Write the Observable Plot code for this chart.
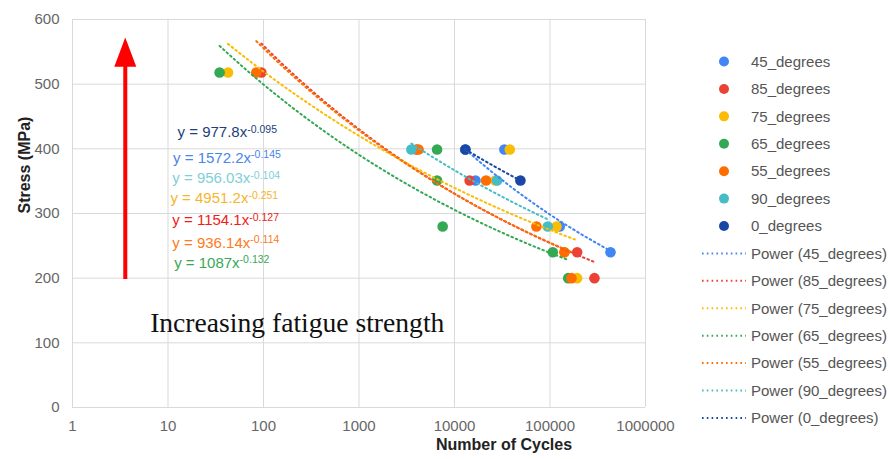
<!DOCTYPE html>
<html>
<head>
<meta charset="utf-8">
<script src="https://cdn.jsdelivr.net/npm/d3@7"></script>
<script src="https://cdn.jsdelivr.net/npm/@observablehq/plot@0.6"></script>
<style>
  html, body { margin: 0; padding: 0; background: #fff; }
  #chart { position: relative; width: 890px; height: 459px; font-family: Arial, "Liberation Sans", sans-serif; }
  #chart > svg { position: absolute; left: 0; top: 0; }
</style>
</head>
<body>
<div id="chart"></div>
<script>
// Orientation series, in legend / drawing order
const seriesNames = ["45_degrees", "85_degrees", "75_degrees", "65_degrees", "55_degrees", "90_degrees", "0_degrees"];
const seriesColors = ["#4285f4", "#ea4335", "#fbbc04", "#34a853", "#ff6d01", "#46bdc6", "#1a47a6"];

// Cycles to failure and stress (MPa) for each orientation
const cycles45 = [13000, 16600, 33300, 126500, 430000];
const stress45 = [399, 351, 399, 280, 240];
const cycles85 = [95, 4000, 14400, 192500, 292000];
const stress85 = [518, 399, 351, 240, 200];
const cycles75 = [42.5, 26800, 37900, 117000, 141000, 192500];
const stress75 = [518, 351, 399, 280, 240, 200];
const cycles65 = [34.7, 6570, 6570, 7520, 107000, 155000];
const stress65 = [518, 399, 351, 280, 240, 200];
const cycles55 = [84, 4200, 21400, 72100, 141700, 167800];
const stress55 = [518, 399, 351, 280, 240, 200];
const cycles90 = [3535, 27900, 94800];
const stress90 = [399, 351, 280];
const cycles0 = [13000, 49000];
const stress0 = [399, 351];

// Axis ticks
const xTicks = [1, 10, 100, 1000, 10000, 100000, 1000000];
const yTicks = [0, 100, 200, 300, 400, 500, 600];

// Trend-line equation labels
const eqCoef = ["977.8", "1572.2", "956.03", "4951.2", "1154.1", "936.14", "1087"];
const eqExp = ["-0.095", "-0.145", "-0.104", "-0.251", "-0.127", "-0.114", "-0.132"];
const eqColors = ["#213f7c", "#4a86e8", "#80cfd8", "#f6b52c", "#f21b1b", "#ff7a21", "#38a856"];

const annotationText = "Increasing fatigue strength";

// ---- build tables ----
const cyclesBySeries = [cycles45, cycles85, cycles75, cycles65, cycles55, cycles90, cycles0];
const stressBySeries = [stress45, stress85, stress75, stress65, stress55, stress90, stress0];

const points = seriesNames.flatMap((s, i) =>
  cyclesBySeries[i].map((c, j) => ({series: s, cycles: c, stress: stressBySeries[i][j]}))
);

// Power-law trend line (least squares on ln x / ln y) over each series' cycle range
const trend = seriesNames.flatMap((s, i) => {
  const xs = cyclesBySeries[i].map(Math.log);
  const ys = stressBySeries[i].map(Math.log);
  const mx = d3.mean(xs), my = d3.mean(ys);
  const b = d3.sum(xs, (x, k) => (x - mx) * (ys[k] - my)) / d3.sum(xs, x => (x - mx) ** 2);
  const a = Math.exp(my - b * mx);
  const [lo, hi] = d3.extent(cyclesBySeries[i]);
  return d3.range(61).map(k => {
    const c = Math.exp(Math.log(lo) + (Math.log(hi) - Math.log(lo)) * k / 60);
    return {series: s, cycles: c, stress: a * Math.pow(c, b)};
  });
});

// Placement of the annotations, in data units
const eqLayout = [
  {x: 12.6, y: 425}, {x: 11.3, y: 386}, {x: 11.1, y: 354}, {x: 10.6, y: 323},
  {x: 11.1, y: 289}, {x: 11.1, y: 254}, {x: 11.6, y: 223}
];
const equations = eqCoef.map((c, i) => ({...eqLayout[i], label: `y = ${c}x^${eqExp[i]}`, color: eqColors[i]}));
const arrow = {x: 3.57, y1: 198, y2: 545, tip: 572};
const annotationPos = {x: 6.5, y: 131};

// Filled arrow head: tip at the anchor, base below it
const arrowHead = {
  draw(ctx, size) {
    const r = Math.sqrt(size / Math.PI);
    ctx.moveTo(0, 0);
    ctx.lineTo(r, r * 2.64);
    ctx.lineTo(-r, r * 2.64);
    ctx.closePath();
  }
};

const font = "Arial, 'Liberation Sans', sans-serif";
const dotted = "1.6,3.2";

const plot = Plot.plot({
  width: 890,
  height: 459,
  marginLeft: 72,
  marginRight: 245,
  marginTop: 19,
  marginBottom: 52,
  style: {fontFamily: font, background: "transparent", overflow: "visible"},
  x: {type: "log", domain: [1, 1e6]},
  y: {domain: [0, 600]},
  color: {domain: seriesNames, range: seriesColors},
  marks: [
    Plot.gridX(xTicks, {stroke: "#d9d9d9", strokeOpacity: 1}),
    Plot.gridY(yTicks, {stroke: "#d9d9d9", strokeOpacity: 1}),
    Plot.axisX({ticks: xTicks, tickFormat: d => String(d), tickSize: 0, tickPadding: 13, fontSize: 15, fill: "#666", label: null}),
    Plot.axisY({ticks: yTicks, tickSize: 0, tickPadding: 13, fontSize: 15, fill: "#666", label: null}),
    Plot.text(["Stress (MPa)"], {frameAnchor: "left", dx: -48, rotate: -90, text: d => d, fontSize: 16, fontWeight: "bold", fill: "#222"}),
    Plot.text(["Number of Cycles"], {frameAnchor: "bottom", dx: 145, dy: 42, text: d => d, fontSize: 16, fontWeight: "bold", fill: "#222"}),
    // red arrow
    Plot.ruleX([arrow], {x: "x", y1: "y1", y2: "y2", stroke: "#ff0000", strokeWidth: 4}),
    Plot.dot([arrow], {x: "x", y: "tip", symbol: arrowHead, r: 11, fill: "#ff0000", stroke: null}),
    Plot.text([annotationPos], {x: "x", y: "y", text: () => annotationText, textAnchor: "start",
      fontSize: 27.6, fontFamily: "'Liberation Serif', 'Times New Roman', serif", fill: "#111"}),
    // equations
    Plot.text(equations, {x: "x", y: "y", text: "label", fill: "color", textAnchor: "start", fontSize: 15}),
    // data
    Plot.dot(points, {x: "cycles", y: "stress", fill: "series", r: 5.3}),
    Plot.line(trend, {x: "cycles", y: "stress", z: "series", stroke: "series", strokeWidth: 2, strokeDasharray: dotted})
  ]
});

// Exponents as superscripts
d3.select(plot).selectAll("text").each(function () {
  const t = this.textContent;
  if (t.includes("^")) {
    const [base, exp] = t.split("^");
    const sel = d3.select(this);
    sel.text(base);
    sel.append("tspan").attr("dy", "-0.45em").attr("font-size", 10.5).text(exp);
  }
});

document.getElementById("chart").appendChild(plot);

// Legend at the right
const legendItems = [
  ...seriesNames.map((s, i) => ({kind: "dot", label: s, color: seriesColors[i]})),
  ...seriesNames.map((s, i) => ({kind: "line", label: `Power (${s})`, color: seriesColors[i]}))
];
const legend = d3.select("#chart").append("svg")
  .attr("width", 890).attr("height", 459)
  .style("font-family", font);
const item = legend.selectAll("g").data(legendItems).join("g")
  .attr("transform", (d, i) => `translate(0,${61.5 + i * 27.42})`);
item.filter(d => d.kind === "dot").append("circle")
  .attr("cx", 724).attr("cy", 0).attr("r", 5).attr("fill", d => d.color);
item.filter(d => d.kind === "line").append("line")
  .attr("x1", 702).attr("x2", 746).attr("y1", 0).attr("y2", 0)
  .attr("stroke", d => d.color).attr("stroke-width", 2).attr("stroke-dasharray", dotted);
item.append("text")
  .attr("x", 751).attr("y", 0).attr("dy", "0.35em")
  .attr("font-size", 15).attr("fill", "#555")
  .text(d => d.label);
</script>
</body>
</html>
